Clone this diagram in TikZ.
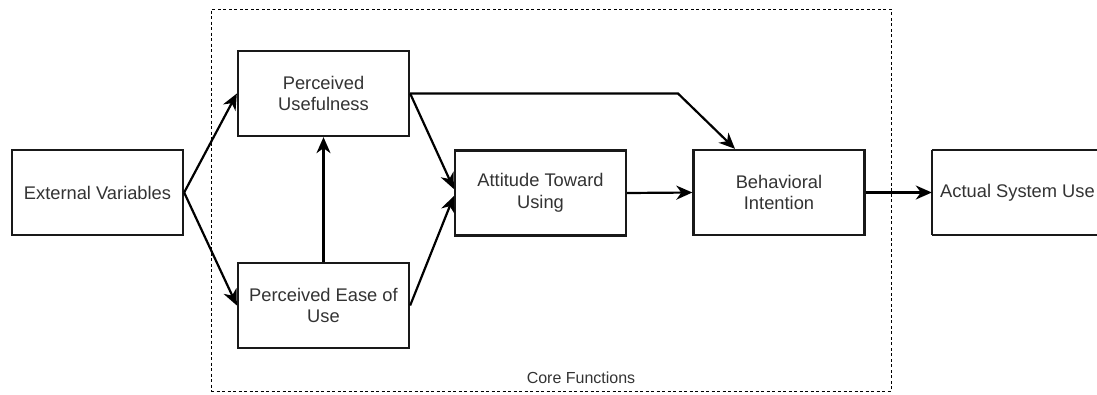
\documentclass[tikz,border=0pt]{standalone}
\usepackage{fontspec}
\setmainfont{Liberation Sans}
\usetikzlibrary{arrows.meta}

\begin{document}
\begin{tikzpicture}[x=1pt,y=-1pt,
  boxtext/.style={minimum width=171pt, minimum height=85pt, align=center, inner sep=2pt,
    text=black!80, font=\fontsize{18.3}{21.8}\selectfont},
  box/.style={boxtext, draw=black!90, line width=2.3pt, fill=white},
  frame/.style={draw=black!90, line width=2.3pt},
  arr/.style={draw=black, line width=2.2pt, -{Stealth[length=16pt,width=14pt,inset=5pt]}},
  group/.style={draw=black, dash pattern=on 3pt off 2.5pt, line width=1pt, minimum width=680pt, minimum height=382pt}
]
\useasboundingbox (0,0) rectangle (1097,394);

% dashed frame of the core part of the model
\node[group] (core) at (551,200) {};
\node[font=\fontsize{16}{18}\selectfont, text=black!80] (corelabel) at (581,378) {Core Functions};

% model constructs
\node[box] (ev)  at (97.5,192.5)  {External Variables};
\node[box] (pu)  at (323.5,93.5)  {Perceived\\Usefulness};
\node[box] (peu) at (323.5,305.5) {Perceived Ease of\\Use};
\node[box] (att) at (540.5,193)   {Attitude Toward\\Using};
\node[box] (bi)  at (779,192.5)   {Behavioral\\Intention};
% the last box runs past the right edge of the page
\node[boxtext] (asu) at (1017.5,192.5) {Actual System Use};
\draw[frame] (asu.north west) -- ++(200,0) (asu.south west) -- ++(200,0) (asu.north west) -- (asu.south west);

% relations
\draw[arr] (ev.east) -- (pu.west);
\draw[arr] (ev.east) -- (peu.west);
\draw[arr] (peu.north) -- (pu.south);
\draw[arr] (pu.east) -- ([yshift=4pt]att.west);
\draw[arr] (peu.east) -- ([yshift=-3pt]att.west);
\draw[arr] (att.east) -- (bi.west);
\coordinate (bend) at (678,93.5);
\draw[arr] (pu.east) -- (bend) -- ([xshift=-44pt]bi.north);
\draw[arr] (bi.east) -- (asu.west);
\end{tikzpicture}
\end{document}
